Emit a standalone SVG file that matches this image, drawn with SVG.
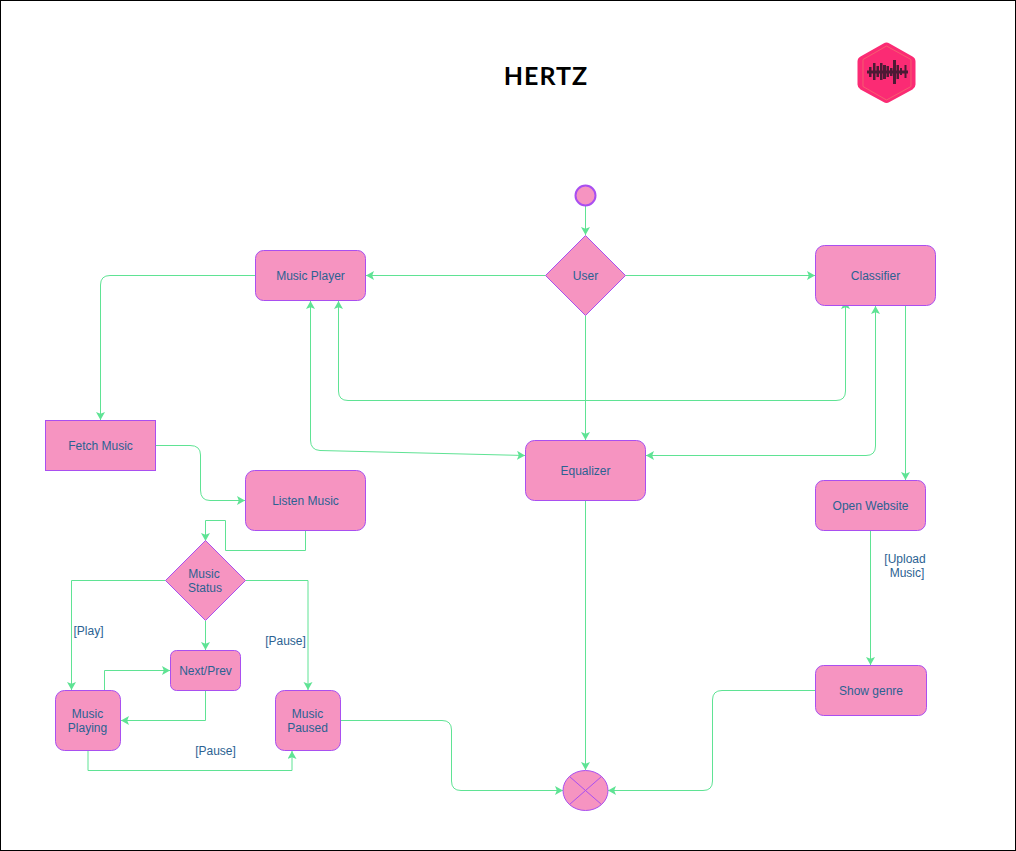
<svg xmlns="http://www.w3.org/2000/svg" width="1016" height="851" viewBox="0 0 1016 851">
<style>
.n{fill:#f694c1;stroke:#a94ff0;stroke-width:1}
.c{fill:none;stroke:#5fe394;stroke-width:1;marker-end:url(#a)}
.d{marker-start:url(#s)}
.t{font-family:"Liberation Sans",Arial,sans-serif;font-size:12px;fill:#2b6292;text-anchor:middle}
.x{stroke:#a94ff0;stroke-width:1;fill:none}
.b{fill:#4d1a35}
</style>
<defs>
<marker id="a" markerUnits="userSpaceOnUse" markerWidth="10" markerHeight="10" refX="8" refY="4.500" orient="auto">
<path d="M0 0L8 4.500L0 9L1.800 4.500Z" fill="#5fe394"/>
</marker>
<marker id="s" markerUnits="userSpaceOnUse" markerWidth="10" markerHeight="10" refX="0" refY="4.500" orient="auto">
<path d="M8 0L0 4.500L8 9L6.200 4.500Z" fill="#5fe394"/>
</marker>
</defs>
<rect x="0.5" y="0.5" width="1015" height="850" fill="#fff" stroke="#000"/>
<text x="546" y="85" style="font-family:'Lato','Noto Sans',sans-serif;font-size:25px;font-weight:700;letter-spacing:1px;fill:#000;text-anchor:middle">HERTZ</text>
<g id="logo">
<path d="M883.500 43.500Q886.500 41.500 889.500 43.500L912.500 56.500Q915.500 58 915.500 61.500V84.500Q915.500 87.500 912.500 89.500L889.500 102Q886.500 103.800 883.500 102L860.500 89.500Q857.500 87.500 857.500 84.500V61.500Q857.500 58 860.500 56.500Z" fill="#fb2b74"/>
<path d="M886.500 46L911 59.500V86.500L886.500 100L863 86.500V59.500Z" fill="none" stroke="#f4696e" stroke-width=".8"/>
<g class="b">
<rect x="867" y="70.500" width="41" height="3"/>
<rect x="869" y="67" width="2.500" height="10"/><rect x="873" y="63" width="2.500" height="17"/><rect x="876.500" y="66" width="2.500" height="11"/><rect x="880" y="63" width="2.500" height="17"/><rect x="883" y="65" width="3" height="14"/><rect x="886.500" y="66" width="2.500" height="11"/><rect x="890" y="68" width="2.500" height="8"/><rect x="893" y="60" width="3" height="24"/><rect x="896.500" y="65" width="2.500" height="14"/><rect x="900" y="68" width="2" height="7"/><rect x="904.500" y="65" width="2" height="13"/>
</g>
</g>
<g id="connectors">
<path class="c" d="M585.500 206V235"/>
<path class="c" d="M545.500 275.500H366"/>
<path class="c" d="M625.500 275.500H815"/>
<path class="c" d="M585.500 315.500V440"/>
<path class="c" d="M255 275.500H110Q100.500 275.500 100.500 285V420"/>
<path class="c d" d="M338.500 301V391Q338.500 400.500 348 400.500H836Q845.500 400.500 845.500 391V301"/>
<path class="c d" d="M310.500 301V440Q310.500 450 320 450.500L525 455.500"/>
<path class="c d" d="M646 455.500H866Q875.500 455.500 875.500 446V306"/>
<path class="c" d="M905.500 306V480"/>
<path class="c" d="M156 445.500H190Q200.500 445.500 200.500 455V490Q200.500 500.500 210 500.500H245"/>
<path class="c" d="M305.500 531V550.500H225.500V520.500H205.500V541"/>
<path class="c" d="M165.500 580.500H71.500V690"/>
<path class="c" d="M245.500 580.500H308V690"/>
<path class="c" d="M205.500 621V650"/>
<path class="c" d="M104.500 690V670.500H170"/>
<path class="c" d="M205.500 691V720.500H121"/>
<path class="c" d="M88 751V770.500H292V751"/>
<path class="c" d="M341 720.500H442Q451.500 720.500 451.500 730V781Q451.500 790.500 461 790.500H563"/>
<path class="c" d="M585.500 501V770"/>
<path class="c" d="M870.500 531V665"/>
<path class="c" d="M815 690.500H722Q712.500 690.500 712.500 700V781Q712.500 790.500 703 790.500H608"/>
</g>
<g id="start"><circle class="n" cx="585.500" cy="195.500" r="10" style="stroke-width:2"/></g>
<g id="user"><path class="n" d="M585.500 235.500L625.500 275.500L585.500 315.500L545.500 275.500Z"/><text class="t" x="585.500" y="280">User</text></g>
<g id="music-player"><rect class="n" x="255.500" y="250.500" width="110" height="50" rx="8"/><text class="t" x="310.500" y="280">Music Player</text></g>
<g id="classifier"><rect class="n" x="815.500" y="245.500" width="120" height="60" rx="9"/><text class="t" x="875.500" y="280">Classifier</text></g>
<g id="fetch-music"><rect class="n" x="45.500" y="420.500" width="110" height="50"/><text class="t" x="100.500" y="450">Fetch Music</text></g>
<g id="equalizer"><rect class="n" x="525.500" y="440.500" width="120" height="60" rx="9"/><text class="t" x="585.500" y="475">Equalizer</text></g>
<g id="listen-music"><rect class="n" x="245.500" y="470.500" width="120" height="60" rx="9"/><text class="t" x="305.500" y="505">Listen Music</text></g>
<g id="open-website"><rect class="n" x="815.500" y="480.500" width="110" height="50" rx="8"/><text class="t" x="870.500" y="510">Open Website</text></g>
<g id="music-status"><path class="n" d="M205.500 540.500L245.500 580.500L205.500 620.500L165.500 580.500Z"/><text class="t" x="204" y="578">Music</text><text class="t" x="205" y="592">Status</text></g>
<g id="next-prev"><rect class="n" x="170.500" y="650.500" width="70" height="40" rx="6"/><text class="t" x="205.500" y="675">Next/Prev</text></g>
<g id="music-playing"><rect class="n" x="55.500" y="690.500" width="65" height="60" rx="9"/><text class="t" x="87.500" y="718">Music</text><text class="t" x="87.500" y="732">Playing</text></g>
<g id="music-paused"><rect class="n" x="275.500" y="690.500" width="65" height="60" rx="9"/><text class="t" x="307.500" y="718">Music</text><text class="t" x="307.500" y="732">Paused</text></g>
<g id="show-genre"><rect class="n" x="815.500" y="665.500" width="111" height="50" rx="8"/><text class="t" x="871" y="695">Show genre</text></g>
<g id="end"><ellipse class="n" cx="585.500" cy="790.500" rx="22.500" ry="20"/><path class="x" d="M569.500 776.500L601.500 804.500M601.500 776.500L569.500 804.500"/></g>
<g id="labels">
<text class="t" x="88.500" y="635">[Play]</text>
<text class="t" x="285.500" y="645">[Pause]</text>
<text class="t" x="215.500" y="755">[Pause]</text>
<text class="t" x="905" y="563">[Upload</text>
<text class="t" x="907" y="577">Music]</text>
</g>
</svg>
